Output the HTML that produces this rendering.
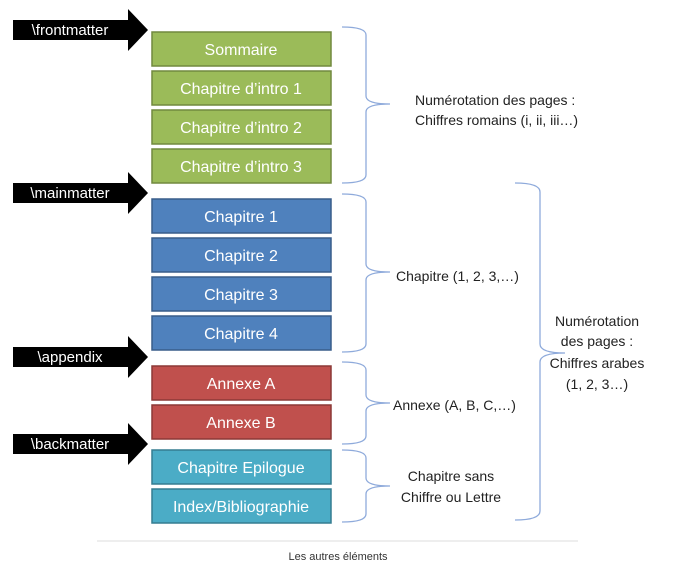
<!DOCTYPE html>
<html><head><meta charset="utf-8"><style>
html,body{margin:0;padding:0;background:#fff;}
svg{display:block;font-family:"Liberation Sans",sans-serif;}
</style></head><body>
<svg width="683" height="568" viewBox="0 0 683 568">
<defs>
<g id="arr"><polygon points="13,-10 128,-10 128,-21 148,0 128,21 128,10 13,10" fill="#000"/></g>
</defs>
<use href="#arr" x="0" y="30"/>
<use href="#arr" x="0" y="193"/>
<use href="#arr" x="0" y="357"/>
<use href="#arr" x="0" y="444"/>
<g fill="#fff" font-size="15" text-anchor="middle">
<text x="70" y="35">\frontmatter</text>
<text x="70" y="198">\mainmatter</text>
<text x="70" y="362">\appendix</text>
<text x="70" y="449">\backmatter</text>
</g>
<g stroke-width="1.5">
<rect x="152" y="32" width="179" height="34" fill="#9bbb59" stroke="#71893f"/>
<rect x="152" y="71" width="179" height="34" fill="#9bbb59" stroke="#71893f"/>
<rect x="152" y="110" width="179" height="34" fill="#9bbb59" stroke="#71893f"/>
<rect x="152" y="149" width="179" height="34" fill="#9bbb59" stroke="#71893f"/>
<rect x="152" y="199" width="179" height="34" fill="#4f81bd" stroke="#385d8a"/>
<rect x="152" y="238" width="179" height="34" fill="#4f81bd" stroke="#385d8a"/>
<rect x="152" y="277" width="179" height="34" fill="#4f81bd" stroke="#385d8a"/>
<rect x="152" y="316" width="179" height="34" fill="#4f81bd" stroke="#385d8a"/>
<rect x="152" y="366" width="179" height="34" fill="#c0504d" stroke="#8c3836"/>
<rect x="152" y="405" width="179" height="34" fill="#c0504d" stroke="#8c3836"/>
<rect x="152" y="450" width="179" height="34" fill="#4bacc6" stroke="#357d91"/>
<rect x="152" y="489" width="179" height="34" fill="#4bacc6" stroke="#357d91"/>
</g>
<g fill="#fff" font-size="16" text-anchor="middle">
<text x="241" y="55">Sommaire</text>
<text x="241" y="94">Chapitre d’intro 1</text>
<text x="241" y="133">Chapitre d’intro 2</text>
<text x="241" y="172">Chapitre d’intro 3</text>
<text x="241" y="222">Chapitre 1</text>
<text x="241" y="261">Chapitre 2</text>
<text x="241" y="300">Chapitre 3</text>
<text x="241" y="339">Chapitre 4</text>
<text x="241" y="389">Annexe A</text>
<text x="241" y="428">Annexe B</text>
<text x="241" y="473">Chapitre Epilogue</text>
<text x="241" y="512">Index/Bibliographie</text>
</g>
<g fill="none" stroke="#8eaadb" stroke-width="1.3">
<path d="M342,27 Q366,27 366,35 L366,96 Q366,104 390,104 Q366,104 366,112 L366,175 Q366,183 342,183"/>
<path d="M342,194 Q366,194 366,202 L366,264 Q366,272 390,272 Q366,272 366,280 L366,344 Q366,352 342,352"/>
<path d="M342,362 Q366,362 366,370 L366,395 Q366,403 390,403 Q366,403 366,411 L366,436 Q366,444 342,444"/>
<path d="M342,450 Q366,450 366,458 L366,478 Q366,486 390,486 Q366,486 366,494 L366,514 Q366,522 342,522"/>
<path d="M515,183 Q540,183 540,192 L540,344 Q540,353 565,353 Q540,353 540,362 L540,511 Q540,520 515,520"/>
</g>
<g fill="#222" font-size="14">
<text x="415" y="105">Numérotation des pages :</text>
<text x="415" y="125">Chiffres romains (i, ii, iii…)</text>
<text x="396" y="281">Chapitre (1, 2, 3,…)</text>
<text x="393" y="410">Annexe (A, B, C,…)</text>
<text x="451" y="481" text-anchor="middle">Chapitre sans</text>
<text x="451" y="502" text-anchor="middle">Chiffre ou Lettre</text>
<text x="597" y="326" text-anchor="middle">Numérotation</text>
<text x="597" y="346" text-anchor="middle">des pages :</text>
<text x="597" y="368" text-anchor="middle">Chiffres arabes</text>
<text x="597" y="389" text-anchor="middle">(1, 2, 3…)</text>
</g>
<line x1="97" y1="541" x2="578" y2="541" stroke="#ddd" stroke-width="1"/>
<text x="338" y="560" font-size="11" fill="#333" text-anchor="middle">Les autres éléments</text>
</svg>
</body></html>
